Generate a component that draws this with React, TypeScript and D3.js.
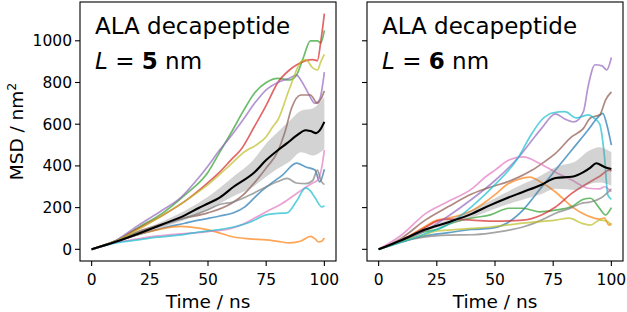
import React from "react";
import * as d3 from "d3";

type P = [number, number][];
type B = [number, number, number][];

const X_TICKS = [0, 25, 50, 75, 100];
const Y_TICKS = [0, 200, 400, 600, 800, 1000];
const TITLE = "ALA decapeptide";
const L_VALUES = ["5", "6"];
const COLORS = ["#1f77b4", "#ff7f0e", "#2ca02c", "#d62728", "#9467bd", "#8c564b", "#e377c2", "#7f7f7f", "#bcbd22", "#17becf"];

// ---- L = 5 nm ----
const blue5: P = [[0,0],[10,35],[20,70],[30,100],[40,125],[46,140],[55,160],[61,175],[66,205],[72,270],[77,315],[82,356],[88,413],[92,395],[96,380],[98,323],[100,384]];
const orange5: P = [[0,0],[10,35],[20,72],[25,85],[30,98],[38,110],[46,102],[53,85],[61,59],[68,50],[75,45],[80,38],[85,31],[90,40],[94,62],[96,50],[97.5,35],[99,40],[100,54]];
const green5: P = [[0,0],[10,38],[20,105],[30,170],[40,260],[50,370],[55,465],[60,560],[65,660],[70,750],[75,800],[80,820],[85,812],[88,835],[91,920],[94,1000],[97,1000],[98.5,990],[100,1050]];
const red5: P = [[0,0],[10,38],[20,100],[30,160],[40,230],[50,320],[55,370],[60,430],[64,476],[70,590],[75,690],[80,800],[85,860],[88,884],[92,905],[95,910],[97,905],[98.5,1000],[100,1130]];
const purple5: P = [[0,0],[10,40],[20,115],[30,185],[38,245],[45,330],[50,400],[55,476],[60,545],[65,620],[70,700],[75,765],[80,800],[85,820],[88,835],[90,810],[93,750],[96,700],[98,720],[100,850]];
const brown5: P = [[0,0],[10,38],[20,85],[30,120],[40,150],[50,175],[60,220],[65,260],[70,320],[75,390],[80,470],[83,560],[86,680],[90,740],[94,740],[97,700],[98.5,720],[100,760]];
const pink5: P = [[0,0],[10,32],[20,50],[25,60],[30,66],[40,75],[50,85],[60,100],[65,120],[70,150],[75,180],[82,221],[89,275],[95,318],[97,330],[99,400],[100,476]];
const gray5: P = [[0,0],[10,38],[20,80],[30,115],[40,150],[50,190],[55,215],[61,227],[68,260],[75,300],[80,325],[84,340],[88,318],[92,315],[95,330],[97,380],[98.5,330],[100,310]];
const olive5: P = [[0,0],[10,38],[20,95],[30,160],[40,230],[50,310],[60,410],[66,470],[70,495],[75,540],[78,590],[80,620],[85,770],[90,900],[92,910],[95,870],[97,860],[98.5,900],[100,935]];
const cyan5: P = [[0,0],[10,30],[20,45],[25,54],[30,60],[40,72],[46,83],[55,95],[61,107],[68,130],[75,165],[80,172],[84,175],[88,230],[92,295],[94,280],[96,247],[99,203],[100,210]];
const mean5: P = [[0,0],[10,35],[20,75],[30,118],[40,163],[46,198],[50,220],[55,248],[61,300],[70,370],[75,428],[80,475],[84,509],[88,545],[92,571],[94,567],[96.5,557],[98,570],[100,611]];
const band5: B = [[0,0,0],[10,32,38],[20,67,83],[30,104,132],[40,141,185],[50,188,252],[60,250,340],[70,305,435],[75,348,508],[80,387,563],[85,420,615],[90,465,665],[95,450,675],[100,480,730]];

// ---- L = 6 nm ----
const blue6: P = [[0,0],[10,35],[20,65],[30,80],[40,95],[48,100],[55,125],[62,188],[69,284],[76,380],[83,476],[90,572],[94,630],[96.3,652],[98,600],[100,500]];
const orange6: P = [[0,0],[10,45],[20,110],[25,140],[30,150],[40,185],[45,220],[50,262],[55,310],[60,335],[65,346],[70,320],[76,275],[83,205],[90,160],[95,145],[97,150],[99,116],[100,125]];
const green6: P = [[0,0],[10,40],[20,85],[25,95],[30,120],[40,150],[48,165],[56,197],[62,197],[69,180],[76,188],[83,205],[88,240],[91,245],[95,195],[97.5,165],[100,200]];
const red6: P = [[0,0],[10,45],[20,105],[25,135],[30,145],[40,140],[50,135],[62,140],[70,165],[76,203],[83,268],[90,318],[95,350],[99,380],[100,375]];
const purple6: P = [[0,0],[10,40],[20,90],[30,160],[40,240],[50,330],[60,440],[65,510],[70,580],[76,650],[80,625],[84,611],[88,660],[90,780],[93,885],[96,880],[98,860],[100,920]];
const brown6: P = [[0,0],[10,55],[20,140],[30,205],[40,265],[50,305],[55,322],[60,345],[66,380],[70,410],[76,460],[83,540],[88,580],[91,630],[95,645],[97.5,716],[100,755]];
const pink6: P = [[0,0],[10,70],[20,170],[30,230],[40,290],[46,348],[50,380],[56,428],[62,443],[69,413],[76,370],[83,332],[90,293],[95,290],[97,300],[100,275]];
const gray6: P = [[0,0],[10,38],[20,60],[30,68],[40,70],[48,78],[55,90],[62,107],[70,140],[76,173],[83,200],[87,220],[91,227],[96,250],[100,290]];
const olive6: P = [[0,0],[10,38],[20,72],[25,88],[30,92],[40,100],[48,107],[62,126],[76,140],[82,150],[87,126],[91,116],[95,140],[98,135],[100,115]];
const cyan6: P = [[0,0],[10,35],[20,75],[30,120],[40,205],[50,310],[60,440],[65,540],[70,620],[75,655],[80,660],[85,630],[90,645],[93,625],[95,600],[97,450],[98.5,260],[100,240]];
const mean6: P = [[0,0],[10,45],[20,95],[30,130],[40,170],[48,212],[55,245],[62,275],[70,310],[76,342],[83,348],[88,370],[91,392],[93.5,413],[97,395],[100,385]];
const band6: B = [[0,0,0],[10,41,49],[20,87,103],[30,118,142],[40,152,188],[50,195,245],[60,232,302],[70,265,355],[76,290,394],[85,285,425],[90,310,470],[95,320,490],[100,305,465]];

const SERIES5 = [blue5, orange5, green5, red5, purple5, brown5, pink5, gray5, olive5, cyan5];
const SERIES6 = [blue6, orange6, green6, red6, purple6, brown6, pink6, gray6, olive6, cyan6];

const W = 627, H = 312;
const TOP = 2, BOTTOM = 261;
const FONT = "DejaVu Sans";

function Panel({ x0, x1, series, mean, band, lval, yLabels }: { x0: number; x1: number; series: P[]; mean: P; band: B; lval: string; yLabels: boolean }) {
  const x = d3.scaleLinear().domain([-5, 105]).range([x0, x1]);
  const y = d3.scaleLinear().domain([-56, 1186]).range([BOTTOM, TOP]);
  const line = d3.line<[number, number]>().x(d => x(d[0])).y(d => y(d[1])).curve(d3.curveMonotoneX);
  const area = d3.area<[number, number, number]>().x(d => x(d[0])).y0(d => y(d[1])).y1(d => y(d[2])).curve(d3.curveMonotoneX);
  const clipId = "clip" + lval;
  return (
    <g>
      <defs>
        <clipPath id={clipId}><rect x={x0} y={TOP} width={x1 - x0} height={BOTTOM - TOP} /></clipPath>
      </defs>
      <g clipPath={`url(#${clipId})`}>
        {series.map((s, i) => (
          <path key={i} d={line(s) || ""} fill="none" stroke={COLORS[i]} strokeOpacity={0.7} strokeWidth={1.7} strokeLinejoin="round" />
        ))}
        <path d={area(band) || ""} fill="#808080" fillOpacity={0.35} stroke="none" />
        <path d={line(mean) || ""} fill="none" stroke="#000" strokeWidth={2.1} strokeLinejoin="round" />
      </g>
      <rect x={x0} y={TOP} width={x1 - x0} height={BOTTOM - TOP} fill="none" stroke="#000" strokeWidth={1.1} />
      {X_TICKS.map(t => (
        <g key={"x" + t}>
          <line x1={x(t)} x2={x(t)} y1={BOTTOM} y2={BOTTOM + 5} stroke="#000" strokeWidth={1.1} />
          <text x={x(t)} y={285} textAnchor="middle" fontSize={15.5} fontFamily={FONT} fill="#000">{t}</text>
        </g>
      ))}
      {Y_TICKS.map(t => (
        <g key={"y" + t}>
          <line x1={x0 - 5} x2={x0} y1={y(t)} y2={y(t)} stroke="#000" strokeWidth={1.1} />
          {yLabels && (
            <text x={x0 - 8} y={y(t)} dy="0.36em" textAnchor="end" fontSize={15.5} fontFamily={FONT} fill="#000">{t}</text>
          )}
        </g>
      ))}
      <text x={(x0 + x1) / 2} y={308} textAnchor="middle" fontSize={18.5} fontFamily={FONT} fill="#000">Time / ns</text>
      <text x={x0 + 15} y={34} fontSize={23} fontFamily={FONT} fill="#000">{TITLE}</text>
      <text x={x0 + 15} y={68.5} fontSize={23} fontFamily={FONT} fill="#000">
        <tspan fontStyle="italic">L</tspan>
        <tspan> = </tspan>
        <tspan fontWeight="bold">{lval}</tspan>
        <tspan> nm</tspan>
      </text>
    </g>
  );
}

export default function App() {
  return (
    <svg width={W} height={H} style={{ position: "absolute", left: 0, top: 0, background: "#fff" }}>
      <rect width={W} height={H} fill="#fff" />
      <Panel x0={80} x1={336} series={SERIES5} mean={mean5} band={band5} lval={L_VALUES[0]} yLabels={true} />
      <Panel x0={367} x1={623} series={SERIES6} mean={mean6} band={band6} lval={L_VALUES[1]} yLabels={false} />
      <text transform={`translate(23, ${(TOP + BOTTOM) / 2}) rotate(-90)`} textAnchor="middle" fontSize={18.5} fontFamily={FONT} fill="#000">
        MSD / nm<tspan fontSize={12.5} dy={-7.5}>2</tspan>
      </text>
    </svg>
  );
}
